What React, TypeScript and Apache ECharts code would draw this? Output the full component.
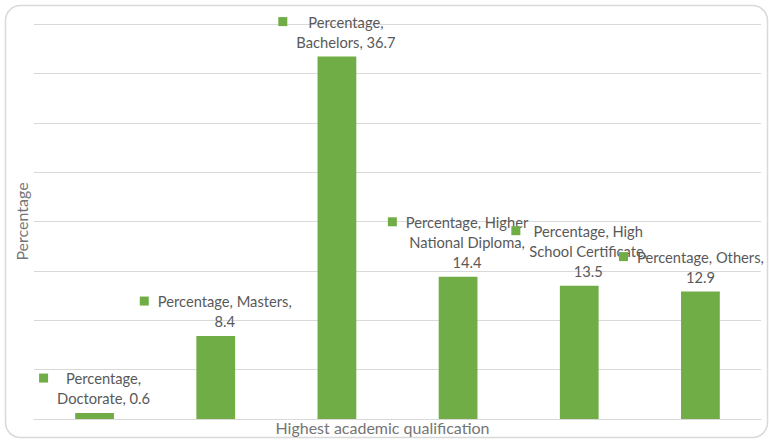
import React, { useEffect, useRef } from "react";
import * as echarts from "echarts";

const categories = [
  "Doctorate",
  "Masters",
  "Bachelors",
  "Higher National Diploma",
  "High School Certificate",
  "Others",
];
const values = [0.6, 8.4, 36.7, 14.4, 13.5, 12.9];
// word indices after which the data label wraps
const labelBreaks = [[1], [2], [1], [2, 4], [2, 4], [2]];
const labelShiftX = [0, 0, 0, 0, 0, -9];

const seriesName = "Percentage";
const xTitle = "Highest academic qualification";
const yTitle = "Percentage";

const GREEN = "#70AD47";
const LABEL_COLOR = "#595959";
const TITLE_COLOR = "#757575";
const GRID_COLOR = "#d9d9d9";
const FONT = "Lato, 'Liberation Sans', sans-serif";
const LABEL_SIZE = 14.7;

function wrapLabel(i: number): string[] {
  const words = `${seriesName}, ${categories[i]}, ${values[i]}`.split(" ");
  const lines: string[] = [];
  let start = 0;
  for (const b of labelBreaks[i]) {
    lines.push(words.slice(start, b).join(" "));
    start = b;
  }
  lines.push(words.slice(start).join(" "));
  return lines;
}

export default function App() {
  const ref = useRef<HTMLDivElement>(null);
  useEffect(() => {
    if (!ref.current) return;
    const chart = echarts.init(ref.current, null, { renderer: "svg" });
    const data = values.map((v, i) => ({
      value: v,
      label: { offset: [labelShiftX[i], 0] },
    }));
    chart.setOption({
      animation: false,
      backgroundColor: "#ffffff",
      graphic: [
        {
          type: "rect",
          shape: { x: 5.5, y: 5.5, width: 762, height: 432, r: 15 },
          style: { fill: "none", stroke: GRID_COLOR, lineWidth: 1.5 },
          z: -1,
        },
      ],
      grid: { left: 34, right: 8, top: 24, bottom: 20, containLabel: false },
      xAxis: {
        type: "category",
        data: categories,
        axisLine: { show: true, lineStyle: { color: GRID_COLOR, width: 1 } },
        axisTick: { show: false },
        axisLabel: { show: false },
        name: xTitle,
        nameLocation: "middle",
        nameGap: 0,
        nameTextStyle: {
          color: TITLE_COLOR,
          fontSize: 16,
          fontFamily: FONT,
          padding: [0, 30, 0, 0],
        },
      },
      yAxis: {
        type: "value",
        min: 0,
        max: 40,
        interval: 5,
        axisLine: { show: false },
        axisTick: { show: false },
        axisLabel: { show: false },
        splitLine: { lineStyle: { color: GRID_COLOR, width: 1 } },
        name: yTitle,
        nameLocation: "middle",
        nameGap: 5,
        nameTextStyle: { color: TITLE_COLOR, fontSize: 16, fontFamily: FONT },
      },
      series: [
        {
          type: "bar",
          name: seriesName,
          data,
          barWidth: "32%",
          itemStyle: { color: GREEN },
          label: {
            show: true,
            position: "top",
            distance: 5,
            lineHeight: 20,
            color: LABEL_COLOR,
            fontSize: LABEL_SIZE,
            fontFamily: FONT,
            formatter: (p: any) => {
              const lines = wrapLabel(p.dataIndex);
              return lines
                .map((l, k) =>
                  k === 0 ? `{sq| }{gap| }{t|${l}}` : `{pad| }{t|${l}}`
                )
                .join("\n");
            },
            rich: {
              sq: {
                width: 9,
                height: 9,
                backgroundColor: GREEN,
                align: "left",
                lineHeight: 20,
              },
              gap: { width: 9, align: "left", lineHeight: 20 },
              pad: { width: 18, align: "left", lineHeight: 20 },
              t: {
                color: LABEL_COLOR,
                fontSize: LABEL_SIZE,
                fontFamily: FONT,
                lineHeight: 20,
              },
            },
          },
        },
      ],
    });
    return () => chart.dispose();
  }, []);
  return (
    <div
      ref={ref}
      style={{ position: "absolute", left: 0, top: 0, width: 769, height: 440 }}
    />
  );
}
